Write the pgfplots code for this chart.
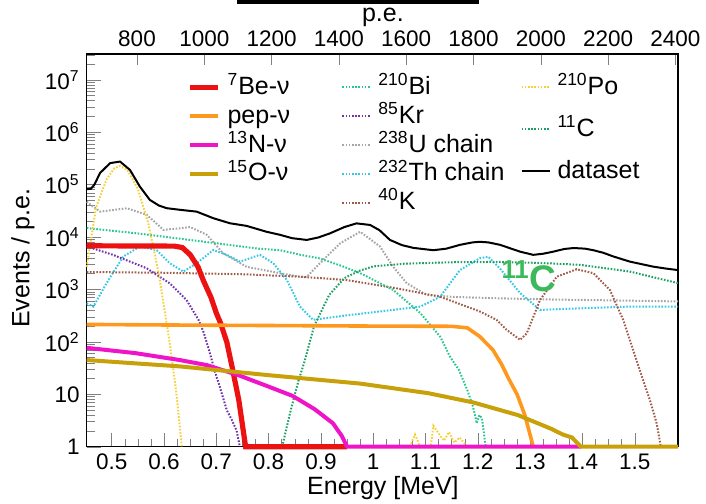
\documentclass[border=0pt]{standalone}
\usepackage{fontspec}
\setmainfont{Liberation Sans}
\usepackage{pgfplots}
\pgfplotsset{compat=1.18}
\definecolor{cbe}{RGB}{236,18,18}
\definecolor{cpep}{RGB}{255,152,30}
\definecolor{cn}{RGB}{240,20,200}
\definecolor{co}{RGB}{200,160,10}
\definecolor{cbi}{RGB}{40,200,140}
\definecolor{ckr}{RGB}{110,50,170}
\definecolor{cu}{RGB}{165,165,165}
\definecolor{cth}{RGB}{50,200,230}
\definecolor{ck}{RGB}{160,90,70}
\definecolor{cpo}{RGB}{245,210,60}
\definecolor{cc}{RGB}{30,160,100}
\definecolor{clab}{RGB}{60,185,90}
\pgfplotsset{
  dotc/.style={line width=1pt, dash pattern=on 0.8pt off 0.8pt},
  common/.style={at={(0,0)}, anchor=south west, scale only axis, width=295.65pt, height=196.35pt},
  leg/.style={common, hide axis, xmin=0, xmax=1, ymin=0, ymax=1,
    legend cell align=left,
    legend image code/.code={\draw[##1] (0pt,0pt) -- (14pt,0pt);},
    legend style={draw=none, fill=none, inner sep=0pt, font=\fontsize{12.5}{14}\selectfont,
      nodes={inner sep=0.5pt, text height=9.5pt, text depth=2.5pt},
      /tikz/every odd column/.append style={column sep=3pt}}}
}
\begin{document}
\begin{tikzpicture}
\path[use as bounding box] (-43.35pt,-28.15pt) rectangle (309.65pt,223.35pt);
\fill[black] (75pt,221.35pt) rectangle (196.15pt,223.35pt);
% top p.e. axis
\begin{axis}[common, xmin=650.5, xmax=2407.7, ymin=0, ymax=1,
  axis x line*=top, axis y line=none, ytick=\empty,
  xtick={800,1000,1200,1400,1600,1800,2000,2200,2400},
  xticklabels={800,1000,1200,1400,1600,1800,2000,2200,2400},
  tick align=inside, major tick length=5.5pt,
  axis line style={line width=0.6pt},
  tick label style={font=\fontsize{11.25}{12}\selectfont},
  xlabel={p.e.}, xlabel style={font=\fontsize{12.5}{14}\selectfont, at={(axis description cs:0.501,1.092)}, anchor=center}]
\end{axis}
% main axis
\begin{axis}[common, xmin=0.4522, xmax=1.5828, ymode=log, ymin=1, ymax=3.1e7, clip=false,
  xtick={0.5,0.6,0.7,0.8,0.9,1,1.1,1.2,1.3,1.4,1.5},
  xticklabels={0.5,0.6,0.7,0.8,0.9,1,1.1,1.2,1.3,1.4,1.5},
  minor x tick num=3,
  ytick={1,10,100,1000,10000,100000,1000000,10000000},
  yticklabels={1,10,10\textsuperscript{2},10\textsuperscript{3},10\textsuperscript{4},10\textsuperscript{5},10\textsuperscript{6},10\textsuperscript{7}},
  minor ytick={2,3,4,5,6,7,8,9,20,30,40,50,60,70,80,90,200,300,400,500,600,700,800,900,2000,3000,4000,5000,6000,7000,8000,9000,20000,30000,40000,50000,60000,70000,80000,90000,200000,300000,400000,500000,600000,700000,800000,900000,2000000,3000000,4000000,5000000,6000000,7000000,8000000,9000000,20000000,30000000},
  xtick pos=bottom, ytick pos=left, tick align=inside,
  major tick length=7pt, minor tick length=4pt,
  axis line style={line width=0.6pt},
  tick label style={font=\fontsize{11.25}{12}\selectfont},
  xlabel={Energy [MeV]}, ylabel={Events / p.e.},
  label style={font=\fontsize{12.5}{14}\selectfont},
  xlabel style={at={(axis description cs:0.501,-0.105)}, anchor=center},
  ylabel style={at={(axis description cs:-0.108,0.48)}, anchor=center}]
% 238U chain
\addplot[cu, dotc, forget plot] coordinates {(0.4522,47000) (0.478,30500) (0.505,33000) (0.529,35400) (0.567,26500) (0.599,13700) (0.631,14700) (0.65,15500) (0.682,11000) (0.713,4900) (0.758,2700) (0.822,2040) (0.86,1750) (0.873,1740) (0.898,3160) (0.937,7600) (0.975,12600) (1.013,6600) (1.038,2720) (1.064,1320) (1.102,785) (1.153,720) (1.2425,676) (1.35,640) (1.45,620) (1.5828,590)};
% 232Th chain
\addplot[cth, dotc, forget plot] coordinates {(0.4522,545) (0.465,470) (0.49,1310) (0.522,4240) (0.554,6600) (0.586,5600) (0.611,3160) (0.637,2190) (0.6625,3160) (0.694,5640) (0.72,4570) (0.745,3390) (0.7835,4570) (0.809,3160) (0.835,1510) (0.86,470) (0.885,263) (0.949,320) (1.013,380) (1.09,470) (1.128,725) (1.166,2350) (1.204,3940) (1.22,4200) (1.2425,2500) (1.281,850) (1.319,407) (1.395,436) (1.49,470) (1.5828,470)};
% 40K
\addplot[ck, dotc, forget plot] coordinates {(0.4522,2150) (0.6,2080) (0.75,1950) (0.86,1750) (0.949,1510) (1.045,1050) (1.128,725) (1.204,380) (1.236,263) (1.255,170) (1.281,109) (1.2935,145) (1.319,630) (1.351,1750) (1.389,2430) (1.421,2040) (1.4525,980) (1.478,263) (1.497,70) (1.516,18.7) (1.529,7.8) (1.542,2.8) (1.55,1)};
% 210Bi
\addplot[cbi, dotc, forget plot] coordinates {(0.4522,14800) (0.55,11700) (0.63,9300) (0.70,7600) (0.78,6000) (0.822,5600) (0.86,4600) (0.898,3900) (0.94,2800) (0.975,2050) (1.038,980) (1.09,355) (1.128,126) (1.147,52) (1.164,29) (1.18,12) (1.191,5.8) (1.198,2.8) (1.203,4) (1.208,3.5) (1.215,1)};
% 11C
\addplot[cc, dotc, forget plot] coordinates {(0.826,1) (0.841,4.4) (0.857,18) (0.868,40) (0.887,200) (0.916,790) (0.945,1650) (0.975,2300) (1.0,2750) (1.06,3100) (1.15,3300) (1.24,3350) (1.32,3200) (1.395,2950) (1.49,2200) (1.5828,1320)};
% 85Kr
\addplot[ckr, dotc, forget plot] coordinates {(0.4522,6600) (0.5025,4570) (0.567,2530) (0.611,1310) (0.643,630) (0.666,263) (0.676,150) (0.686,70) (0.70,22) (0.704,17) (0.72,5) (0.73,3.2) (0.739,2) (0.745,1)};
% 210Po
\addplot[cpo, dotc, forget plot] coordinates {(0.4522,2700) (0.47,36300) (0.49,125900) (0.505,204200) (0.516,227500) (0.53,190500) (0.55,83200) (0.57,18200) (0.59,1995) (0.61,110) (0.621,17) (0.625,7.9) (0.634,1)};
\addplot[cpo, dotc, forget plot] coordinates {(1.07,1) (1.08,1.7) (1.09,1) (1.11,1) (1.115,2.5) (1.125,1.8) (1.135,1.3) (1.145,1.9) (1.155,1.2) (1.165,1.5) (1.18,1)};
% 7Be
\addplot[cbe, line width=2.6pt, forget plot] coordinates {(0.4522,6800) (0.55,6750) (0.62,6700) (0.635,6300) (0.65,4600) (0.665,2700) (0.675,1500) (0.69,700) (0.70,355) (0.708,230) (0.72,100) (0.73,34) (0.743,7.8) (0.756,1) (0.95,1)};
% pep
\addplot[cpep, line width=1.8pt, forget plot] coordinates {(0.4522,215) (0.6,210) (0.8,205) (1.0,200) (1.15,198) (1.18,185) (1.204,126) (1.229,70) (1.245,38) (1.26,19) (1.275,10) (1.29,4) (1.306,1)};
% 13N
\addplot[cn, line width=2pt, forget plot] coordinates {(0.4522,77) (0.545,61) (0.63,45) (0.682,36) (0.743,23) (0.80,14) (0.846,9.3) (0.888,5.2) (0.923,2.8) (0.94,1.6) (0.95,1) (1.397,1)};
% 15O
\addplot[co, line width=2pt, forget plot] coordinates {(0.4522,45) (0.631,34) (0.803,23) (0.975,16) (1.105,10.5) (1.191,7) (1.277,4) (1.34,2.2) (1.363,1.7) (1.38,1.5) (1.397,1) (1.5828,1)};
% dataset
\addplot[black, line width=1pt, forget plot] coordinates {(0.4522,81700) (0.46,83000) (0.467,100000) (0.4776,166000) (0.497,257000) (0.516,275000) (0.535,190000) (0.554,91000) (0.573,51000) (0.59,40000) (0.605,35500) (0.631,33000) (0.6625,30500) (0.694,22900) (0.726,18300) (0.758,16300) (0.796,12600) (0.822,11000) (0.845,9500) (0.873,8800) (0.895,9800) (0.917,11700) (0.945,15500) (0.968,18200) (0.994,17000) (1.012,13500) (1.032,8800) (1.055,7000) (1.077,6200) (1.115,5600) (1.14,6000) (1.166,7100) (1.19,7900) (1.204,8100) (1.22,7900) (1.2425,7100) (1.281,5250) (1.306,4570) (1.325,4800) (1.344,5250) (1.365,5900) (1.383,6170) (1.405,6000) (1.421,5600) (1.44,5000) (1.459,4260) (1.491,3390) (1.5355,2720) (1.56,2500) (1.5828,2340)};
\node[text=clab, font=\bfseries\fontsize{18.5}{20}\selectfont] at (axis cs:1.298,1770) {\textsuperscript{11}C};
\end{axis}
% legends
\begin{axis}[leg, legend style={at={(axis description cs:0.1696,0.949)}, anchor=north west, row sep=1.4pt}]
\addlegendimage{cbe, line width=2.6pt}\addlegendentry{\textsuperscript{7}Be-ν}
\addlegendimage{cpep, line width=2pt}\addlegendentry{pep-ν}
\addlegendimage{cn, line width=2pt}\addlegendentry{\textsuperscript{13}N-ν}
\addlegendimage{co, line width=2pt}\addlegendentry{\textsuperscript{15}O-ν}
\end{axis}
\begin{axis}[leg, legend style={at={(axis description cs:0.430,0.949)}, anchor=north west, row sep=1.4pt}]
\addlegendimage{cbi, dotc}\addlegendentry{\textsuperscript{210}Bi}
\addlegendimage{ckr, dotc}\addlegendentry{\textsuperscript{85}Kr}
\addlegendimage{cu, dotc}\addlegendentry{\textsuperscript{238}U chain}
\addlegendimage{cth, dotc}\addlegendentry{\textsuperscript{232}Th chain}
\addlegendimage{ck, dotc}\addlegendentry{\textsuperscript{40}K}
\end{axis}
\begin{axis}[leg, legend style={at={(axis description cs:0.733,0.949)}, anchor=north west, row sep=8pt}]
\addlegendimage{cpo, dotc}\addlegendentry{\textsuperscript{210}Po}
\addlegendimage{cc, dotc}\addlegendentry{\textsuperscript{11}C}
\addlegendimage{black, line width=1pt}\addlegendentry{dataset}
\end{axis}
\end{tikzpicture}
\end{document}
